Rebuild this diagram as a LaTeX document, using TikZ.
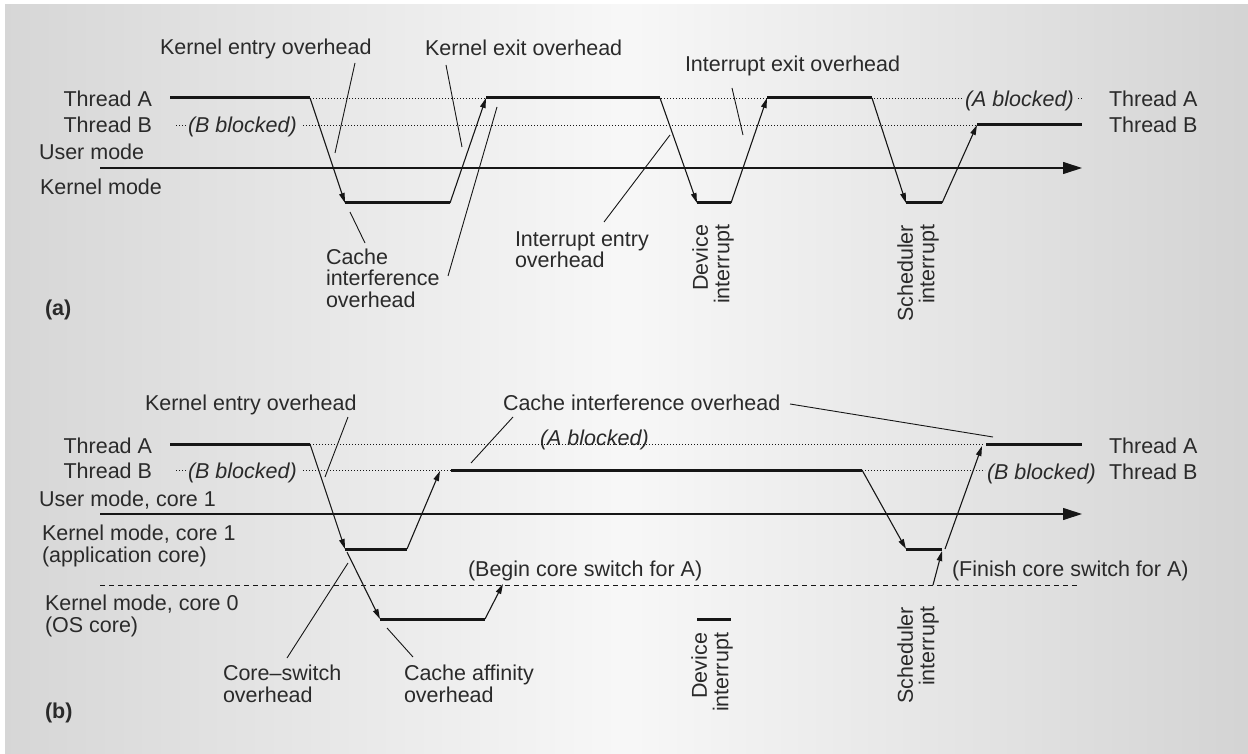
\documentclass[tikz,border=0pt]{standalone}
\usepackage{fontspec}
\setmainfont{Liberation Sans}
\usetikzlibrary{arrows.meta}
\definecolor{txt}{HTML}{2a2a2a}
\definecolor{ink}{HTML}{161616}
\begin{document}
\begin{tikzpicture}[x=1pt,y=-1pt,
  every node/.style={inner sep=0pt, outer sep=0pt, text=txt, font=\fontsize{21.5}{21.5}\selectfont},
  lbl/.style={anchor=base west, align=left},
  lblr/.style={anchor=base east},
  rot/.style={rotate=90, anchor=east, align=right},
  tl/.style={draw=ink, line width=3pt},
  dotln/.style={draw=ink, line width=0.9pt, dash pattern=on 0.9pt off 2.1pt},
  trans/.style={draw=ink, line width=1.1pt, -{Triangle[length=10pt,width=5.5pt]}},
  ptr/.style={draw=ink, line width=0.9pt},
  axisln/.style={draw=ink, line width=1.1pt, -{Triangle[length=19pt,width=12pt]}},
  dashln/.style={draw=ink, line width=1pt, dash pattern=on 5pt off 4pt},
]
\useasboundingbox (0,0) rectangle (1248,754);
\shade[left color=black!16, right color=black!17, middle color=black!3] (5,5) rectangle (1248,754);

%%%%%%%%%%%%%%%% (a)
\coordinate (aA1s) at (170,98);  \coordinate (aA1e) at (310,98);
\coordinate (aK1s) at (345,203); \coordinate (aK1e) at (450,203);
\coordinate (aA2s) at (486,98);  \coordinate (aA2e) at (660,98);
\coordinate (aK2s) at (697,203); \coordinate (aK2e) at (731,203);
\coordinate (aA3s) at (767,98);  \coordinate (aA3e) at (872,98);
\coordinate (aK3s) at (906,203); \coordinate (aK3e) at (942,203);
\coordinate (aB1s) at (977,125); \coordinate (aB1e) at (1082,125);

\node[lblr] (aThA) at (152,107) {Thread A};
\node[lblr] (aThB) at (152,133) {Thread B};
\node[lbl] (aUser) at (39,160) {User mode};
\node[lbl] (aKern) at (40,195) {Kernel mode};
\node[lbl] (aBbl) at (188,133) {\itshape (B blocked)};
\node[lbl] (aAbl) at (965,107) {\itshape (A blocked)};
\node[lbl] (aThA2) at (1109,107) {Thread A};
\node[lbl] (aThB2) at (1109,133) {Thread B};
\node[lbl] (aKE) at (160,55) {Kernel entry overhead};
\node[lbl] (aKX) at (425,56) {Kernel exit overhead};
\node[lbl] (aIX) at (685,72) {Interrupt exit overhead};
\node[lbl] (aIE) at (515,268) {Interrupt entry\\overhead};
\node[lbl] (aCI) at (326,307) {Cache\\interference\\overhead};
\node[rot] (aDev) at (713,225) {Device\\interrupt};
\node[rot] (aSch) at (918,225) {Scheduler\\interrupt};
\node[lbl] (aTag) at (45,315) {\bfseries (a)};

\draw[dotln] (aA1e) -- (963,98);
\draw[dotln] (1078,98) -- (1082,98);
\draw[dotln] (176,125) -- (187,125);
\draw[dotln] (303,125) -- (aB1s);

\draw[axisln] (100,168) -- (1082,168);

\draw[tl] (aA1s) -- (aA1e);
\draw[tl] (aK1s) -- (aK1e);
\draw[tl] (aA2s) -- (aA2e);
\draw[tl] (aK2s) -- (aK2e);
\draw[tl] (aA3s) -- (aA3e);
\draw[tl] (aK3s) -- (aK3e);
\draw[tl] (aB1s) -- (aB1e);

\draw[trans] (aA1e) -- (aK1s);
\draw[trans] (aK1e) -- (aA2s);
\draw[trans] (aA2e) -- (aK2s);
\draw[trans] (aK2e) -- (aA3s);
\draw[trans] (aA3e) -- (aK3s);
\draw[trans] (aK3e) -- (aB1s);

\coordinate (pKE1) at (355,63);  \coordinate (pKE2) at (335,153);
\coordinate (pC1a) at (350,212); \coordinate (pC1b) at (365,243);
\coordinate (pC2a) at (448,276); \coordinate (pC2b) at (497,107);
\coordinate (pKX1) at (446,65);  \coordinate (pKX2) at (462,147);
\coordinate (pIE1) at (604,222); \coordinate (pIE2) at (670,135);
\coordinate (pIX1) at (732,88);  \coordinate (pIX2) at (743,135);
\draw[ptr] (pKE1) -- (pKE2);
\draw[ptr] (pC1a) -- (pC1b);
\draw[ptr] (pC2a) -- (pC2b);
\draw[ptr] (pKX1) -- (pKX2);
\draw[ptr] (pIE1) -- (pIE2);
\draw[ptr] (pIX1) -- (pIX2);

%%%%%%%%%%%%%%%% (b)
\coordinate (bA1s) at (170,444); \coordinate (bA1e) at (310,444);
\coordinate (bK1s) at (345,549); \coordinate (bK1e) at (407,549);
\coordinate (bO1s) at (380,619); \coordinate (bO1e) at (485,619);
\coordinate (bSw1) at (503,584);
\coordinate (bBtip) at (440,471);
\coordinate (bB1s) at (451,470); \coordinate (bB1e) at (862,470);
\coordinate (bK2s) at (906,549); \coordinate (bK2e) at (942,549);
\coordinate (bSw2) at (933,585); \coordinate (bSw2t) at (942,551);
\coordinate (bUp) at (945,549);  \coordinate (bAtip) at (982,446);
\coordinate (bA2s) at (986,444); \coordinate (bA2e) at (1082,444);
\coordinate (bDevS) at (697,619); \coordinate (bDevE) at (731,619);

\node[lblr] (bThA) at (152,453) {Thread A};
\node[lblr] (bThB) at (152,478) {Thread B};
\node[lbl] (bUser) at (39,506) {User mode, core 1};
\node[lbl] (bK1) at (42,562) {Kernel mode, core 1\\(application core)};
\node[lbl] (bK0) at (45,632) {Kernel mode, core 0\\(OS core)};
\node[lbl] (bBbl) at (188,478) {\itshape (B blocked)};
\node[lbl] (bAbl) at (540,445) {\itshape (A blocked)};
\node[lbl] (bBbl2) at (987,479) {\itshape (B blocked)};
\node[lbl] (bThA2) at (1109,453) {Thread A};
\node[lbl] (bThB2) at (1109,479) {Thread B};
\node[lbl] (bKE) at (145,410) {Kernel entry overhead};
\node[lbl] (bCIO) at (503,410) {Cache interference overhead};
\node[lbl] (bBeg) at (468,576) {(Begin core switch for A)};
\node[lbl] (bFin) at (952,576) {(Finish core switch for A)};
\node[lbl] (bCS) at (223,702) {Core\textendash switch\\overhead};
\node[lbl] (bCA) at (404,702) {Cache affinity\\overhead};
\node[rot] (bDev) at (712,633) {Device\\interrupt};
\node[rot] (bSch) at (918,607) {Scheduler\\interrupt};
\node[lbl] (bTag) at (45,718) {\bfseries (b)};

\draw[dotln] (bA1e) -- (984,444);
\draw[dotln] (176,470) -- (187,470);
\draw[dotln] (303,470) -- (bB1s);
\draw[dotln] (bB1e) -- (985,470);

\draw[axisln] (100,514) -- (1082,514);
\draw[dashln] (100,585) -- (1078,585);

\draw[tl] (bA1s) -- (bA1e);
\draw[tl] (bK1s) -- (bK1e);
\draw[tl] (bO1s) -- (bO1e);
\draw[tl] (bB1s) -- (bB1e);
\draw[tl] (bK2s) -- (bK2e);
\draw[tl] (bA2s) -- (bA2e);
\draw[tl] (bDevS) -- (bDevE);

\draw[trans] (bA1e) -- (bK1s);
\draw[trans] (347,552) -- (bO1s);
\draw[trans] (bO1e) -- (bSw1);
\draw[trans] (bK1e) -- (bBtip);
\draw[trans] (bB1e) -- (bK2s);
\draw[trans] (bSw2) -- (bSw2t);
\draw[trans] (bUp) -- (bAtip);

\coordinate (qKE1) at (348,417); \coordinate (qKE2) at (325,477);
\coordinate (qCI1) at (513,417); \coordinate (qCI2) at (471,463);
\coordinate (qCI3) at (790,404); \coordinate (qCI4) at (993,437);
\coordinate (qCS1) at (287,658); \coordinate (qCS2) at (348,563);
\coordinate (qCA1) at (387,628); \coordinate (qCA2) at (413,657);
\draw[ptr] (qKE1) -- (qKE2);
\draw[ptr] (qCI1) -- (qCI2);
\draw[ptr] (qCI3) -- (qCI4);
\draw[ptr] (qCS1) -- (qCS2);
\draw[ptr] (qCA1) -- (qCA2);
\end{tikzpicture}
\end{document}
